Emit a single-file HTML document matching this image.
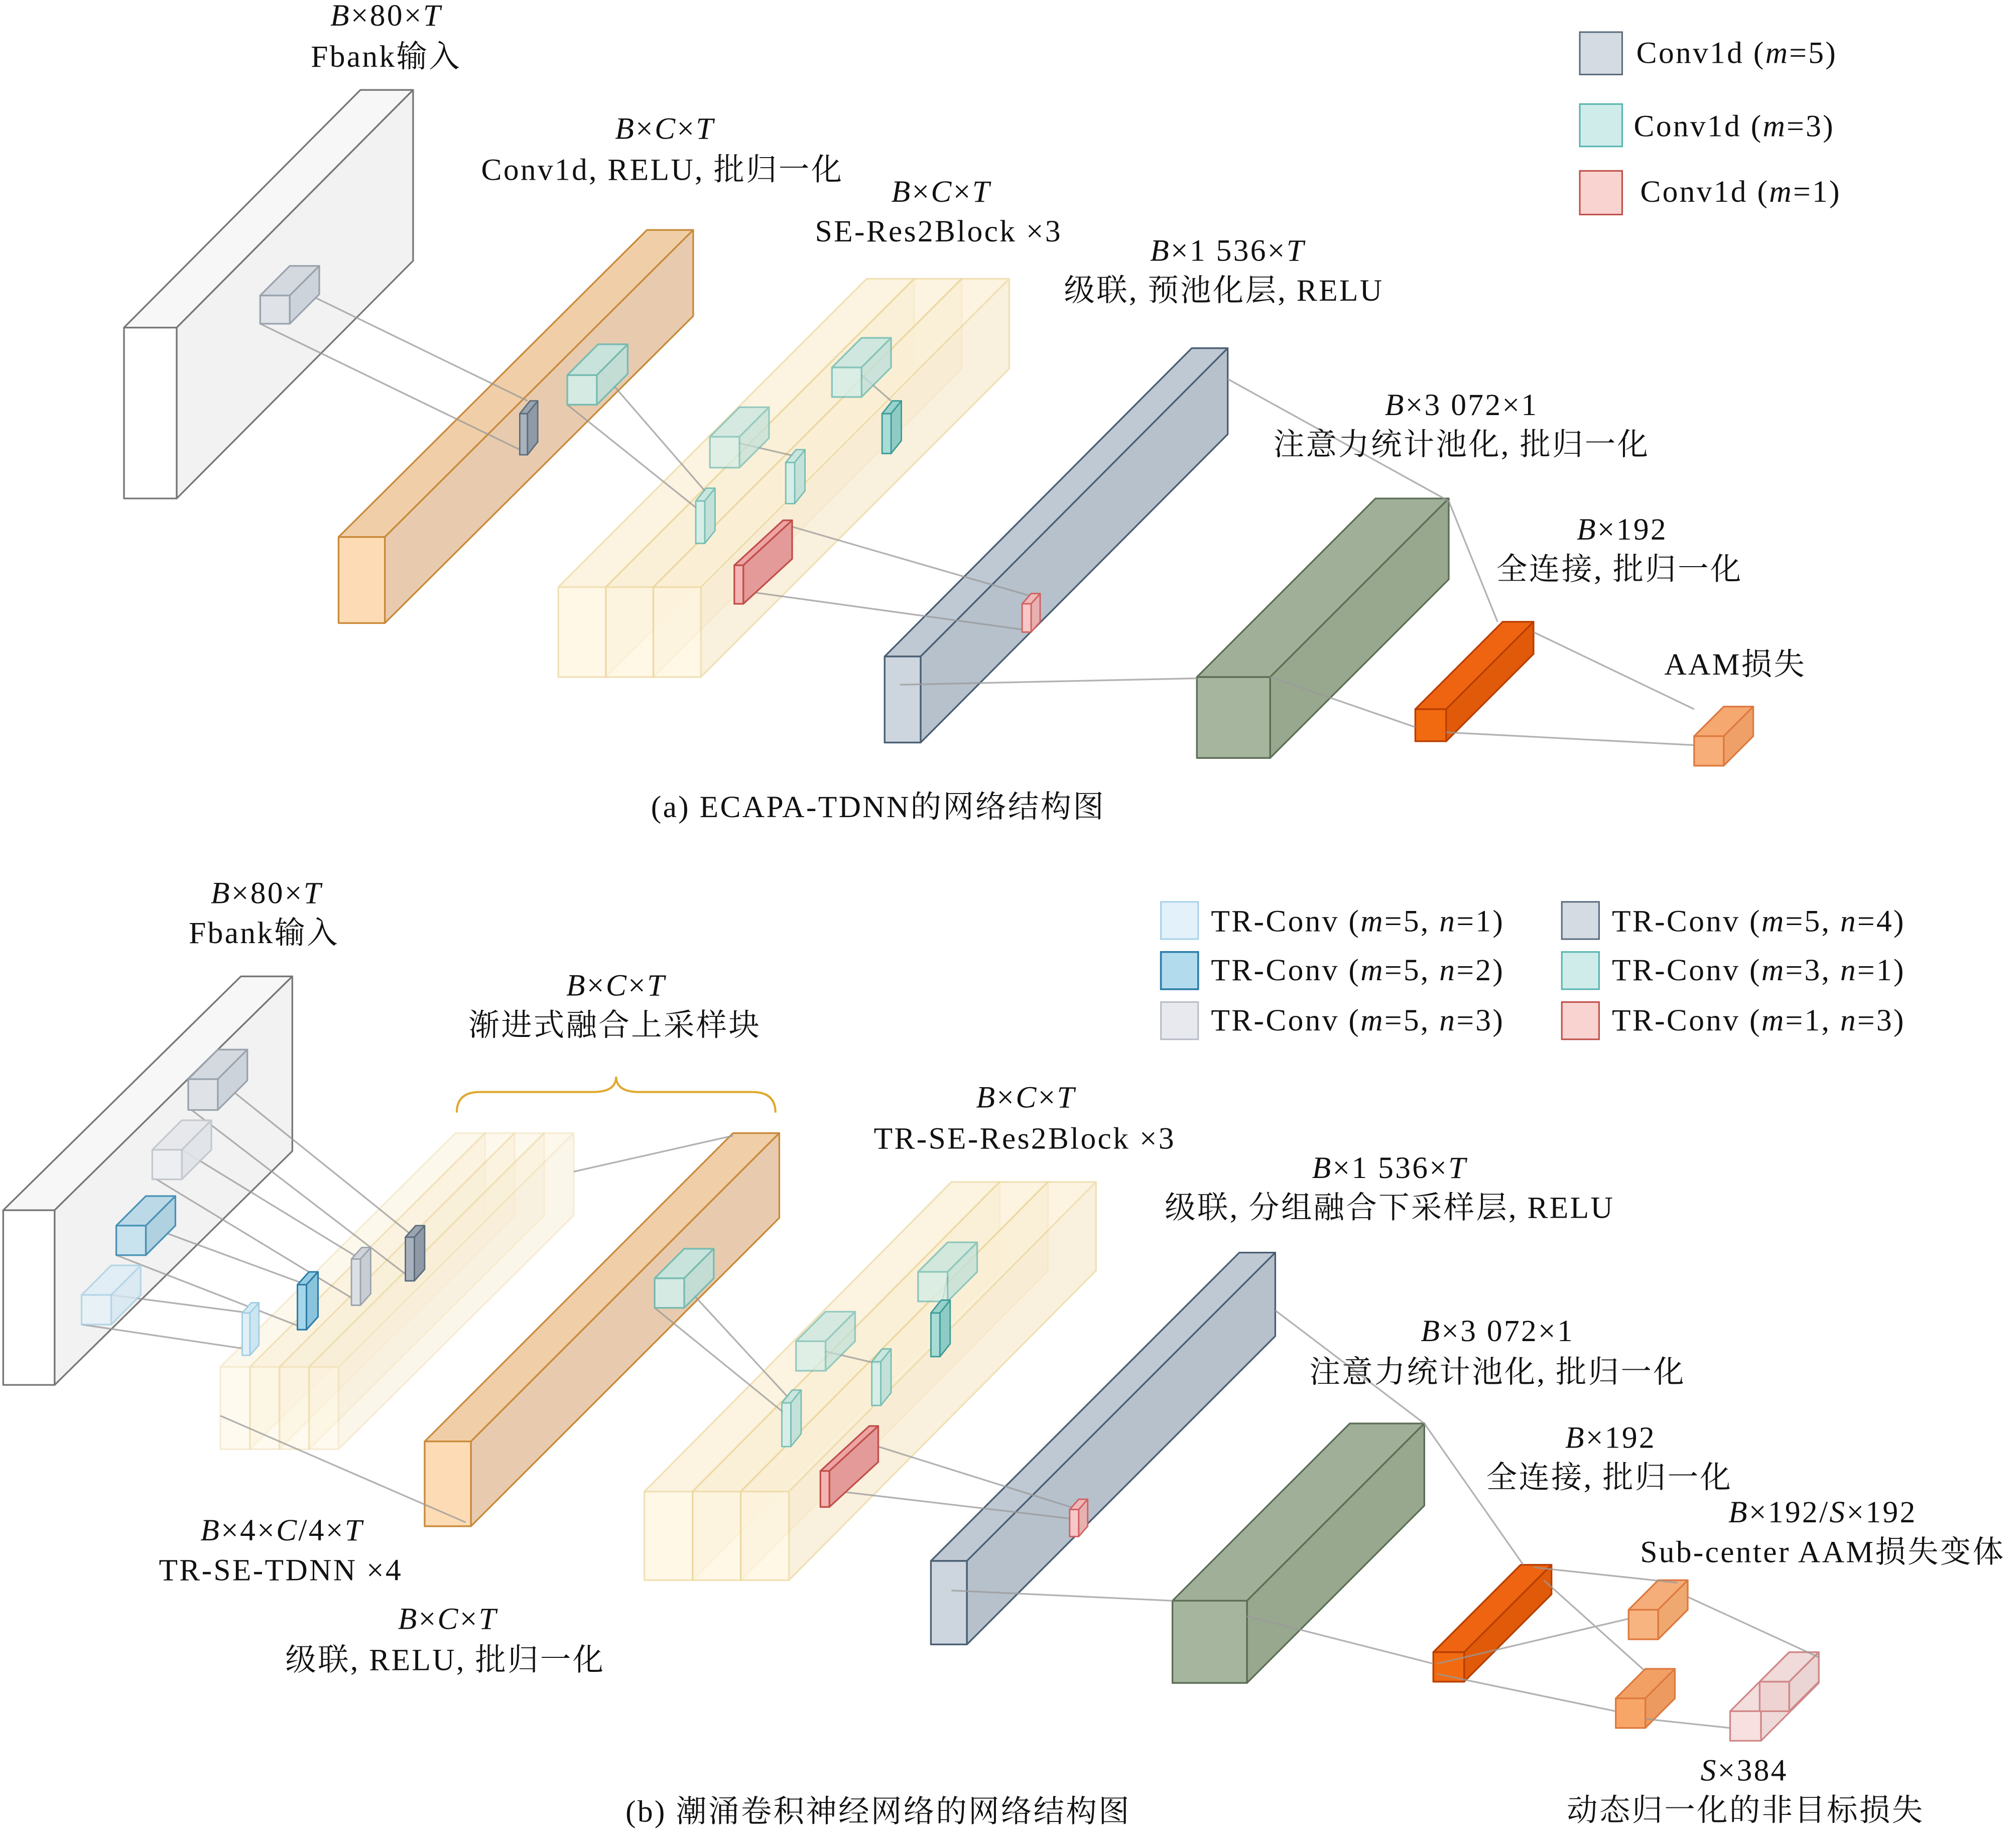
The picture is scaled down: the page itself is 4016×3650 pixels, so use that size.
<!DOCTYPE html>
<html><head><meta charset="utf-8"><style>
html,body{margin:0;padding:0;background:#fff;}
svg{display:block;}
text{font-family:"Liberation Serif","Noto Serif CJK SC",serif;font-size:24px;letter-spacing:1.3px;fill:#111;}
.c{text-anchor:middle;}
</style></head><body>
<svg id="s" width="4016" height="3650" viewBox="0 0 1568 1426" xmlns="http://www.w3.org/2000/svg">
<g id="boxes"></g>
<g id="lines" stroke="#999" stroke-width="1.3" fill="none" opacity="0.75">
<line x1="225" y1="222" x2="410" y2="312"/><line x1="202" y1="252" x2="404" y2="350"/>
<line x1="464" y1="285" x2="548" y2="382"/><line x1="441" y1="315" x2="541" y2="395"/>
<line x1="575" y1="345" x2="618" y2="355"/><line x1="670" y1="292" x2="693" y2="312"/>
<line x1="578" y1="460" x2="795" y2="490"/><line x1="616" y1="410" x2="802" y2="464"/>
<line x1="955" y1="295" x2="1127" y2="390"/><line x1="700" y1="533" x2="931" y2="528"/>
<line x1="988" y1="527" x2="1101" y2="566"/><line x1="1127" y1="390" x2="1165" y2="484"/>
<line x1="1193" y1="492" x2="1318" y2="552"/><line x1="1125" y1="570" x2="1318" y2="580"/>
<line x1="169" y1="840" x2="322" y2="963"/><line x1="146" y1="862" x2="318" y2="994"/>
<line x1="141" y1="895" x2="280" y2="980"/><line x1="118" y1="916" x2="276" y2="1012"/>
<line x1="113" y1="954" x2="238" y2="1000"/><line x1="90" y1="977" x2="234" y2="1033"/>
<line x1="86" y1="1008" x2="194" y2="1022"/><line x1="63" y1="1031" x2="191" y2="1050"/>
<line x1="446" y1="912" x2="570" y2="884"/><line x1="171" y1="1102" x2="362" y2="1185"/>
<line x1="532" y1="1000" x2="615" y2="1090"/><line x1="509" y1="1018" x2="610" y2="1100"/>
<line x1="642" y1="1052" x2="685" y2="1062"/><line x1="737" y1="994" x2="731" y2="1022"/>
<line x1="645" y1="1160" x2="832" y2="1182"/><line x1="683" y1="1126" x2="839" y2="1175"/>
<line x1="992" y1="1020" x2="1108" y2="1108"/><line x1="740" y1="1238" x2="912" y2="1246"/>
<line x1="970" y1="1258" x2="1115" y2="1295"/><line x1="1108" y1="1108" x2="1185" y2="1218"/>
<line x1="1193" y1="1220" x2="1305" y2="1232"/><line x1="1201" y1="1230" x2="1279" y2="1300"/>
<line x1="1118" y1="1295" x2="1267" y2="1260"/><line x1="1118" y1="1303" x2="1257" y2="1332"/>
<line x1="1313" y1="1243" x2="1415" y2="1290"/><line x1="1280" y1="1338" x2="1346" y2="1345"/>
</g>
<g id="kern"></g>
<path d="M355 866 q0 -16 18 -16 h88 q18 0 18 -12 q0 12 18 12 h88 q18 0 18 16" stroke="#e0a82e" stroke-width="1.6" fill="none"/>
<!-- legend a -->
<rect x="1229" y="25" width="33" height="33" fill="#d5dbe2" stroke="#5b6c7d" stroke-width="1.2"/>
<rect x="1229" y="81" width="33" height="33" fill="#cfecea" stroke="#58b4b0" stroke-width="1.2"/>
<rect x="1229" y="133" width="33" height="34" fill="#f8d3d0" stroke="#c0504a" stroke-width="1.2"/>
<text x="1273" y="49">Conv1d (<tspan font-style="italic">m</tspan>=5)</text>
<text x="1271" y="106">Conv1d (<tspan font-style="italic">m</tspan>=3)</text>
<text x="1276" y="157">Conv1d (<tspan font-style="italic">m</tspan>=1)</text>
<!-- legend b -->
<rect x="903" y="702" width="29" height="29" fill="#e3f1fa" stroke="#a8d2ea" stroke-width="1.2"/>
<rect x="903" y="741" width="29" height="29" fill="#b2dcee" stroke="#2d7ca8" stroke-width="1.4"/>
<rect x="903" y="780" width="29" height="29" fill="#e7e9ee" stroke="#b8bdc6" stroke-width="1.2"/>
<rect x="1215" y="702" width="29" height="29" fill="#d5dbe2" stroke="#5b6c7d" stroke-width="1.2"/>
<rect x="1215" y="741" width="29" height="29" fill="#cfecea" stroke="#58b4b0" stroke-width="1.2"/>
<rect x="1215" y="780" width="29" height="29" fill="#f8d3d0" stroke="#c0504a" stroke-width="1.2"/>
<text x="942" y="725">TR-Conv (<tspan font-style="italic">m</tspan>=5, <tspan font-style="italic">n</tspan>=1)</text>
<text x="942" y="763">TR-Conv (<tspan font-style="italic">m</tspan>=5, <tspan font-style="italic">n</tspan>=2)</text>
<text x="942" y="802">TR-Conv (<tspan font-style="italic">m</tspan>=5, <tspan font-style="italic">n</tspan>=3)</text>
<text x="1254" y="725">TR-Conv (<tspan font-style="italic">m</tspan>=5, <tspan font-style="italic">n</tspan>=4)</text>
<text x="1254" y="763">TR-Conv (<tspan font-style="italic">m</tspan>=3, <tspan font-style="italic">n</tspan>=1)</text>
<text x="1254" y="802">TR-Conv (<tspan font-style="italic">m</tspan>=1, <tspan font-style="italic">n</tspan>=3)</text>
<!-- labels a -->
<text class="c" x="300" y="20"><tspan font-style="italic">B</tspan>×80×<tspan font-style="italic">T</tspan></text>
<text class="c" x="300" y="52">Fbank输入</text>
<text class="c" x="517" y="108"><tspan font-style="italic">B</tspan>×<tspan font-style="italic">C</tspan>×<tspan font-style="italic">T</tspan></text>
<text class="c" x="515" y="140">Conv1d, RELU, 批归一化</text>
<text class="c" x="732" y="157"><tspan font-style="italic">B</tspan>×<tspan font-style="italic">C</tspan>×<tspan font-style="italic">T</tspan></text>
<text class="c" x="730" y="188">SE-Res2Block ×3</text>
<text class="c" x="955" y="203"><tspan font-style="italic">B</tspan>×1 536×<tspan font-style="italic">T</tspan></text>
<text class="c" x="952" y="234">级联, 预池化层, RELU</text>
<text class="c" x="1137" y="323"><tspan font-style="italic">B</tspan>×3 072×1</text>
<text class="c" x="1137" y="354">注意力统计池化, 批归一化</text>
<text class="c" x="1262" y="420"><tspan font-style="italic">B</tspan>×192</text>
<text class="c" x="1260" y="451">全连接, 批归一化</text>
<text class="c" x="1350" y="525">AAM损失</text>
<text class="c" x="683" y="636">(a) ECAPA-TDNN的网络结构图</text>
<!-- labels b -->
<text class="c" x="207" y="703"><tspan font-style="italic">B</tspan>×80×<tspan font-style="italic">T</tspan></text>
<text class="c" x="205" y="734">Fbank输入</text>
<text class="c" x="479" y="775"><tspan font-style="italic">B</tspan>×<tspan font-style="italic">C</tspan>×<tspan font-style="italic">T</tspan></text>
<text class="c" x="478" y="806">渐进式融合上采样块</text>
<text class="c" x="798" y="862"><tspan font-style="italic">B</tspan>×<tspan font-style="italic">C</tspan>×<tspan font-style="italic">T</tspan></text>
<text class="c" x="797" y="894">TR-SE-Res2Block ×3</text>
<text class="c" x="1081" y="917"><tspan font-style="italic">B</tspan>×1 536×<tspan font-style="italic">T</tspan></text>
<text class="c" x="1081" y="948">级联, 分组融合下采样层, RELU</text>
<text class="c" x="1165" y="1044"><tspan font-style="italic">B</tspan>×3 072×1</text>
<text class="c" x="1165" y="1076">注意力统计池化, 批归一化</text>
<text class="c" x="1253" y="1127"><tspan font-style="italic">B</tspan>×192</text>
<text class="c" x="1252" y="1158">全连接, 批归一化</text>
<text class="c" x="1418" y="1185"><tspan font-style="italic">B</tspan>×192/<tspan font-style="italic">S</tspan>×192</text>
<text class="c" x="1418" y="1216">Sub-center AAM损失变体</text>
<text class="c" x="219" y="1199"><tspan font-style="italic">B</tspan>×4×<tspan font-style="italic">C</tspan>/4×<tspan font-style="italic">T</tspan></text>
<text class="c" x="218" y="1230">TR-SE-TDNN ×4</text>
<text class="c" x="348" y="1268"><tspan font-style="italic">B</tspan>×<tspan font-style="italic">C</tspan>×<tspan font-style="italic">T</tspan></text>
<text class="c" x="346" y="1300">级联, RELU, 批归一化</text>
<text class="c" x="1357" y="1386"><tspan font-style="italic">S</tspan>×384</text>
<text class="c" x="1358" y="1417">动态归一化的非目标损失</text>
<text class="c" x="683" y="1418">(b) 潮涌卷积神经网络的网络结构图</text>
</svg>
<script>
var NS="http://www.w3.org/2000/svg";
function box(g,x,y,w,h,dx,dy,f,t,s,st,op,sw){
  var G=document.getElementById(g);
  var e=document.createElementNS(NS,"g");
  e.setAttribute("stroke",st);e.setAttribute("stroke-width",sw||1.3);e.setAttribute("stroke-linejoin","round");
  if(op!==undefined)e.setAttribute("opacity",op);
  function p(pts,fill){var q=document.createElementNS(NS,"polygon");q.setAttribute("points",pts.map(function(a){return a.join(",")}).join(" "));q.setAttribute("fill",fill);e.appendChild(q);}
  p([[x,y],[x+dx,y-dy],[x+w+dx,y-dy],[x+w,y]],t);
  p([[x+w,y],[x+w+dx,y-dy],[x+w+dx,y+h-dy],[x+w,y+h]],s);
  p([[x,y],[x+w,y],[x+w,y+h],[x,y+h]],f);
  G.appendChild(e);
}
var GR=["#fff","#f7f7f7","#f2f2f2","#777"],OR=["#fddcb5","#f0cfa8","#e8cbae","#c98a3a"],BL=["#cdd5de","#bfc9d4","#b6c1cc","#4b5f73"],GN=["#a5b59e","#a0b098","#98a88f","#5b6e55"],YE=["#fff6e0","#fbf0d6","#f8ecd2","#ecd79e"];
function B(g,x,y,w,h,dx,dy,c,op,sw){box(g,x,y,w,h,dx,dy,c[0],c[1],c[2],c[3],op,sw);}
B("boxes",96,255,41,133,184,185,GR);
B("boxes",263,418,36,67,240,239,OR);
B("boxes",434,457,37,70,240,240,YE,0.75);
B("boxes",471,457,37,70,240,240,YE,0.75);
B("boxes",508,457,37,70,240,240,YE,0.75);
B("boxes",688,511,28,67,239,240,BL);
B("boxes",931,527,57,63,139,139,GN);
B("boxes",1101,552,24,25,68,68,["#f26a10","#ee6410","#e05a0a","#b83e00"]);
B("boxes",1318,573,23,23,23,23,["#f8ae78","#f5a870","#eea068","#dd7a40"]);
B("boxes",2,942,40,136,185,182,GR);
for(var i=0;i<4;i++)B("boxes",171+23*i,1064,23,64,183,182,YE,0.45);
B("boxes",330,1122,36,66,240,240,OR);
for(var i=0;i<3;i++)B("boxes",501+37.5*i,1161,37.5,69,239,241,YE,0.75);
B("boxes",724,1215,28,65,240,240,BL);
B("boxes",912,1246,58,64,138,138,GN);
B("boxes",1115,1286,24,23,68,68,["#f26a10","#ee6410","#e05a0a","#b83e00"]);
B("boxes",1267,1253,23,23,23,23,["#f8b480","#f5ae7a","#eea870","#dd7a40"]);
B("boxes",1257,1322,23,23,23,23,["#f8a668","#f3a064","#ec9a60","#dd7a40"]);
B("boxes",1346,1332,24,23,45,45,["#f8e0e0","#f3dede","#eed8d8","#d08888"]);
B("boxes",1369,1309,23,23,23,23,["#efd2d2","#f0dada","#ead4d4","#d08888"]);
var GK=["#dfe3e8","#d4d9e0","#cdd3da","#9aa3ad"],GD=["#a9b2bc","#9aa5b0","#8f9aa6","#5b6c7d"],TK=["#d3eee9","#c5e6e0","#bfe0da","#6cbab2"],TD=["#a8dcd6","#98d2cc","#8ecbc4","#3d9c95"],RK=["#f4b4b4","#eea4a4","#e59a9a","#c0504a"];
B("kern",202,230,23,22,23,23,GK);
B("kern",404,322,6,32,8,10,GD,1,1.1);
B("kern",441,292,23,23,24,24,TK,0.9);
B("kern",552,340,23,24,23,23,TK,0.7);
B("kern",647,286,23,23,23,23,TK,0.8);
B("kern",541,390,7,33,8,10,TK,0.9,1.1);
B("kern",611,360,7,32,8,10,TK,0.9,1.1);
B("kern",686,322,7,31,8,10,TD,1,1.1);
B("kern",571,440,7,30,38,35,RK);
B("kern",795,470,7,22,7,8,["#f8c8c8","#f0b8b8","#e8b0b0","#d06060"],1,1.1);
B("kern",146,840,23,24,23,23,GK);
B("kern",118,895,23,23,23,23,["#eceef1","#e6e8eb","#e0e3e7","#c0c5cc"],0.9);
B("kern",90,954,23,23,23,23,["#c8e2ee","#bcd9e7","#b0d1e0","#4a92b6"]);
B("kern",63,1008,23,23,23,23,["#e6f2f8","#ddeef6","#d5e8f2","#a8d0e4"],0.8);
B("kern",188,1022,6,33,7,8,["#e0f0f8","#d5eaf5","#cde5f1","#a0cde2"],1,1.1);
B("kern",231,1000,7,35,9,10,["#a6d6ea","#92cce4","#8ac4dc","#2d7ca8"],1,1.2);
B("kern",273,980,7,36,8,9,["#dcdfe4","#d0d4da","#c8cdd4","#9aa3ad"],1,1.1);
B("kern",315,963,7,34,8,9,GD,1,1.1);
B("kern",509,995,23,23,23,23,TK,0.9);
B("kern",619,1044,23,23,23,23,TK,0.7);
B("kern",714,990,23,23,23,23,TK,0.75);
B("kern",608,1092,7,34,8,10,TK,0.9,1.1);
B("kern",678,1060,7,34,8,10,TK,0.9,1.1);
B("kern",724,1022,7,34,8,10,TD,1,1.1);
B("kern",638,1145,7,28,38,35,RK);
B("kern",832,1175,7,21,7,8,["#f8c8c8","#f0b8b8","#e8b0b0","#d06060"],1,1.1);
</script>
</body></html>
